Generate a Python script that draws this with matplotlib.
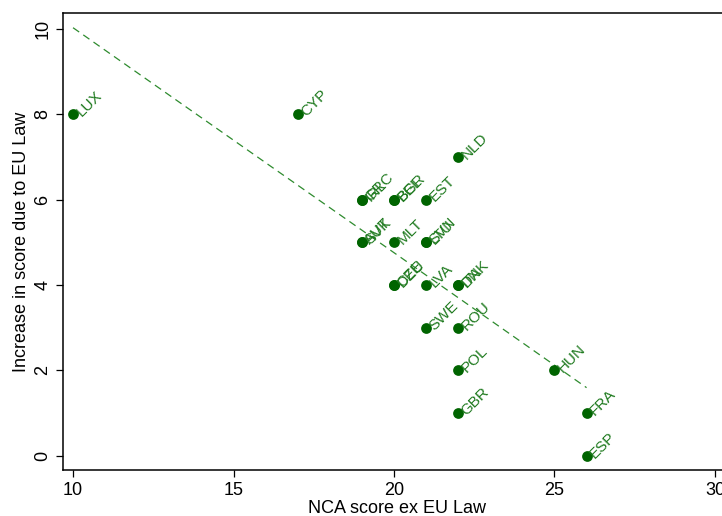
import numpy as np
import matplotlib
matplotlib.use("Agg")
import matplotlib.pyplot as plt

plt.rcParams['font.family'] = ['Liberation Sans', 'DejaVu Sans']

# NCA score ex EU law vs increase in score due to EU law
countries = ['LUX', 'CYP', 'GRC', 'IRL', 'BEL', 'BGR', 'EST', 'NLD',
             'AUT', 'SVK', 'MLT', 'SVN', 'LTU', 'CZE', 'DEU', 'LVA',
             'DNK', 'ITA', 'SWE', 'ROU', 'POL', 'GBR', 'HUN', 'FRA', 'ESP']
nca_score = [10, 17, 19, 19, 20, 20, 21, 22,
             19, 19, 20, 21, 21, 20, 20, 21,
             22, 22, 21, 22, 22, 22, 25, 26, 26]
eu_increase = [8, 8, 6, 6, 6, 6, 6, 7,
               5, 5, 5, 5, 5, 4, 4, 4,
               4, 4, 3, 3, 2, 1, 2, 1, 0]

x = np.array(nca_score, dtype=float)
y = np.array(eu_increase, dtype=float)

fig = plt.figure(figsize=(7.22, 5.16), dpi=100)
W, H = 722, 516
# axes box: left 63px, top 13px, bottom 470px, right runs past the image edge
ax = fig.add_axes([63 / W, (H - 470) / H, (731 - 63) / W, (470 - 13) / H])

green_dot = '#006400'
green_txt = '#1f7a1f'

ax.scatter(x, y, s=60, color=green_dot, zorder=3, linewidths=0)
for cx, cy, lab in zip(x, y, countries):
    ax.annotate(lab, (cx, cy), xytext=(4, 0), textcoords='offset points',
                rotation=45, rotation_mode='anchor', ha='left', va='center',
                fontsize=11, color=green_txt)

# linear fit
slope, intercept = np.polyfit(x, y, 1)
xs = np.array([x.min(), x.max()])
ax.plot(xs, intercept + slope * xs, color='#2e8b2e', lw=0.9,
        dashes=(6, 4), zorder=2)

ax.set_xlim(9.6875, 30.5)
ax.set_ylim(-0.33, 10.37)
ax.set_xticks([10, 15, 20, 25, 30])
ax.set_yticks([0, 2, 4, 6, 8, 10])
ax.tick_params(direction='out', length=5, width=0.9, labelsize=13)
for lbl in ax.get_yticklabels():
    lbl.set_rotation(90)
    lbl.set_va('center')
for sp in ax.spines.values():
    sp.set_linewidth(1.1)

ax.set_xlabel('NCA score ex EU Law', fontsize=13, labelpad=1)
ax.set_ylabel('Increase in score due to EU Law', fontsize=13, labelpad=3)

fig.savefig('out.png', dpi=100)
